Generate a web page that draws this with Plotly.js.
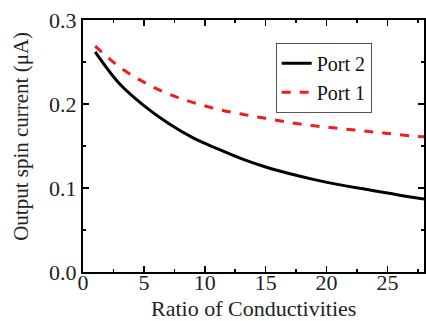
<!DOCTYPE html>
<html>
<head>
<meta charset="utf-8">
<script src="https://cdn.plot.ly/plotly-3.0.1.min.js"></script>
<style>html,body{margin:0;padding:0;background:#fff;}#chart{width:426px;height:321px;}</style>
</head>
<body>
<div id="chart"></div>
<script>
const ratioX = [1, 3, 5, 7, 9, 11, 13, 15, 17, 19, 21, 23, 25, 27, 28];
const port2 = [0.262, 0.224, 0.198, 0.177, 0.160, 0.147, 0.135, 0.125, 0.117, 0.110, 0.104, 0.099, 0.094, 0.089, 0.087];
const port1 = [0.269, 0.244, 0.226, 0.212, 0.202, 0.194, 0.188, 0.183, 0.178, 0.174, 0.171, 0.168, 0.165, 0.162, 0.161];
const seriesNames = ['Port 2', 'Port 1'];
const xTicks = [0, 5, 10, 15, 20, 25];
const yTicks = [0.0, 0.1, 0.2, 0.3];
const yTickText = ['0.0', '0.1', '0.2', '0.3'];
const xTitle = 'Ratio of Conductivities';
const yTitle = 'Output spin current (μA)';

const serif = 'Liberation Serif, Times New Roman, serif';
const traces = [
  {x: ratioX, y: port2, name: seriesNames[0], mode: 'lines', line: {color: '#000000', width: 3, shape: 'spline'}},
  {x: ratioX, y: port1, name: seriesNames[1], mode: 'lines', line: {color: '#ee1c25', width: 3, dash: 'dash', shape: 'spline'}}
];
const axisCommon = {
  showgrid: false, zeroline: false, showline: true, linecolor: '#000', linewidth: 2,
  mirror: 'ticks', ticks: 'inside', ticklen: 6, tickwidth: 1.5, tickcolor: '#000',
  tickfont: {family: serif, size: 22, color: '#222'}
};
const layout = {
  width: 426, height: 321,
  margin: {l: 83, r: 2, t: 20, b: 49},
  paper_bgcolor: '#fff', plot_bgcolor: '#fff',
  font: {family: serif, color: '#222'},
  showlegend: true,
  legend: {x: 0.565, y: 0.91, xanchor: 'left', yanchor: 'top', bordercolor: '#555', borderwidth: 1,
    bgcolor: '#fff', font: {family: serif, size: 20, color: '#111'}, tracegroupgap: 0},
  xaxis: Object.assign({}, axisCommon, {
    range: [0, 28], tickvals: xTicks, ticklabelstandoff: -10,
    minor: {dtick: 2.5, ticklen: 3, tickwidth: 1.5, tickcolor: '#000', ticks: 'inside'}
  }),
  yaxis: Object.assign({}, axisCommon, {
    range: [0, 0.3], tickvals: yTicks, ticktext: yTickText,
    minor: {dtick: 0.05, ticklen: 3, tickwidth: 1.5, tickcolor: '#000', ticks: 'inside'}
  }),
  annotations: [{
    text: yTitle, textangle: -90, xref: 'paper', yref: 'paper',
    x: -0.182, y: 0.54, xanchor: 'center', yanchor: 'middle', showarrow: false,
    font: {family: serif, size: 21, color: '#222'}
  }, {
    text: xTitle, xref: 'paper', yref: 'paper',
    x: 0.5, y: -0.143, xanchor: 'center', yanchor: 'middle', showarrow: false,
    font: {family: serif, size: 22, color: '#222'}
  }]
};
Plotly.newPlot('chart', traces, layout, {displayModeBar: false, staticPlot: true});
</script>
</body>
</html>
